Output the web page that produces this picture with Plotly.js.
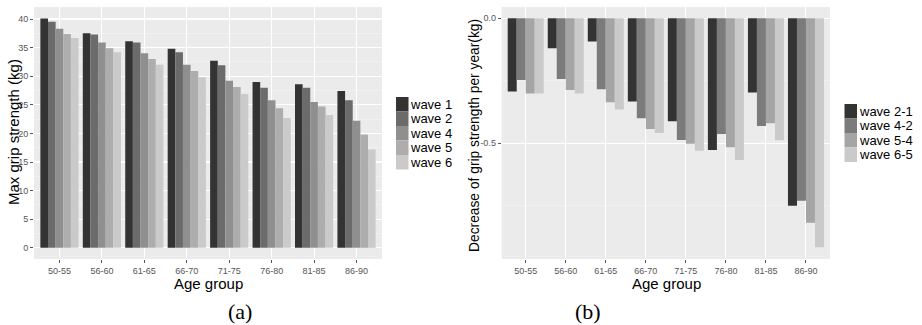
<!DOCTYPE html>
<html>
<head>
<meta charset="utf-8">
<script src="https://cdn.plot.ly/plotly-3.0.1.min.js"></script>
<style>html,body{margin:0;padding:0;background:#fff;}#chart{width:922px;height:325px;}</style>
</head>
<body>
<div id="chart"></div>
<script>
// ---- data ----
const ageGroups = ['50-55','56-60','61-65','66-70','71-75','76-80','81-85','86-90'];

const seriesA = ['wave 1','wave 2','wave 4','wave 5','wave 6'];
const wave1 = [40.1, 37.5, 36.1, 34.8, 32.7, 29.0, 28.6, 27.4];
const wave2 = [39.5, 37.3, 35.9, 34.2, 31.9, 28.0, 28.0, 25.8];
const wave4 = [38.3, 35.9, 34.0, 32.0, 29.2, 25.8, 25.5, 22.2];
const wave5 = [37.4, 34.9, 33.0, 30.9, 28.1, 24.4, 24.7, 19.8];
const wave6 = [36.7, 34.2, 32.0, 29.8, 26.9, 22.7, 23.2, 17.2];
const valuesA = [wave1, wave2, wave4, wave5, wave6];
const colorsA = ['#333333','#6b6b6b','#8f8f8f','#adadad','#cacaca'];

const seriesB = ['wave 2-1','wave 4-2','wave 5-4','wave 6-5'];
const wave21 = [-0.293, -0.120, -0.093, -0.333, -0.412, -0.528, -0.297, -0.751];
const wave42 = [-0.247, -0.243, -0.284, -0.400, -0.488, -0.464, -0.431, -0.731];
const wave54 = [-0.301, -0.287, -0.336, -0.443, -0.503, -0.517, -0.420, -0.819];
const wave65 = [-0.301, -0.301, -0.365, -0.459, -0.531, -0.568, -0.489, -0.917];
const valuesB = [wave21, wave42, wave54, wave65];
const colorsB = ['#333333','#7b7b7b','#a5a5a5','#cacaca'];

const yTicksA = [0,5,10,15,20,25,30,35,40];
const yTicksB = [0.0, -0.5];
const yTickTextB = ['0.0', '-0.5'];

const xTitle = 'Age group';
const yTitleA = 'Max grip strength (kg)';
const yTitleB = 'Decrease of grip strength per year(kg)';

// ---- traces ----
const traces = [];
seriesA.forEach((name, i) => {
  traces.push({type:'bar', name:name, x:ageGroups, y:valuesA[i], xaxis:'x', yaxis:'y',
    marker:{color:colorsA[i], line:{width:0}}, showlegend:false, hoverinfo:'x+y'});
});
seriesB.forEach((name, i) => {
  traces.push({type:'bar', name:name, x:ageGroups, y:valuesB[i], xaxis:'x2', yaxis:'y2',
    marker:{color:colorsB[i], line:{width:0}}, showlegend:false, hoverinfo:'x+y'});
});

// ---- manual ggplot-style legends and titles ----
const shapes = [];
const annotations = [];
const W = 922, H = 325;
const SANS = 'Liberation Sans, Arial, sans-serif';
function px(x){ return x / W; }
function py(y){ return 1 - y / H; }
function addLegend(names, colors, left, top, step){
  names.forEach((n, i) => {
    const y0 = top + i*step, y1 = y0 + step;
    shapes.push({type:'rect', xref:'paper', yref:'paper', x0:px(left), x1:px(left+12.5),
      y0:py(y1), y1:py(y0), fillcolor:colors[i], line:{width:0}, layer:'above'});
    annotations.push({xref:'paper', yref:'paper', x:px(left+13), y:py((y0+y1)/2),
      xanchor:'left', yanchor:'middle', text:n, showarrow:false, borderpad:0,
      font:{family:SANS, size:13, color:'#000'}});
  });
}
addLegend(seriesA, colorsA, 396, 97, 14.5);
addLegend(seriesB, colorsB, 844.5, 104, 14.5);

function addText(text, x, y, size, angle, family){
  annotations.push({xref:'paper', yref:'paper', x:px(x), y:py(y), text:text, showarrow:false,
    textangle:angle, xanchor:'center', yanchor:'middle', borderpad:0,
    font:{family:family || SANS, size:size, color:'#000'}});
}
addText(xTitle, 208, 283.5, 15, 0);
addText(xTitle, 666, 283.5, 15, 0);
addText(yTitleA, 14, 132, 15, -90);
addText(yTitleB, 474, 136, 13.8, -90);
addText('(a)', 240, 311, 22, 0, 'Liberation Serif, Times New Roman, serif');
addText('(b)', 588, 311, 22, 0, 'Liberation Serif, Times New Roman, serif');

const tickFont = {family:SANS, size:9, color:'#555555'};
const yDomain = [py(259), py(7)];

const xCommon = {
  type:'category', showgrid:true, gridcolor:'#ffffff', gridwidth:1,
  ticks:'outside', ticklen:3, tickcolor:'#555555', tickwidth:1,
  tickfont:tickFont, zeroline:false, showline:false, range:[-0.6, 7.6], fixedrange:true
};

const layout = {
  width:W, height:H,
  margin:{l:0, r:0, t:0, b:0},
  paper_bgcolor:'#ffffff', plot_bgcolor:'#ebebeb',
  barmode:'group', bargap:0.1, bargroupgap:0,
  showlegend:false,
  xaxis: Object.assign({}, xCommon, {domain:[px(34), px(382)], anchor:'y'}),
  xaxis2: Object.assign({}, xCommon, {domain:[px(501.7), px(830)], anchor:'y2'}),
  yaxis: {domain:yDomain, anchor:'x', range:[-1.95, 42.1], tickvals:yTicksA,
    showgrid:true, gridcolor:'#ffffff', gridwidth:1.2,
    minor:{dtick:2.5, tick0:0, showgrid:true, gridcolor:'#f5f5f5', gridwidth:0.6, ticks:''},
    ticks:'outside', ticklen:3, tickcolor:'#555555', tickfont:tickFont,
    zeroline:false, showline:false},
  yaxis2: {domain:yDomain, anchor:'x2', range:[-0.964, 0.045], tickvals:yTicksB, ticktext:yTickTextB,
    showgrid:true, gridcolor:'#ffffff', gridwidth:1.2,
    minor:{tickvals:[-0.25,-0.75], showgrid:true, gridcolor:'#f5f5f5', gridwidth:0.6, ticks:''},
    ticks:'outside', ticklen:3, tickcolor:'#555555', tickfont:tickFont,
    zeroline:false, showline:false},
  shapes:shapes,
  annotations:annotations
};

Plotly.newPlot('chart', traces, layout, {displayModeBar:false, staticPlot:true});
</script>
</body>
</html>
